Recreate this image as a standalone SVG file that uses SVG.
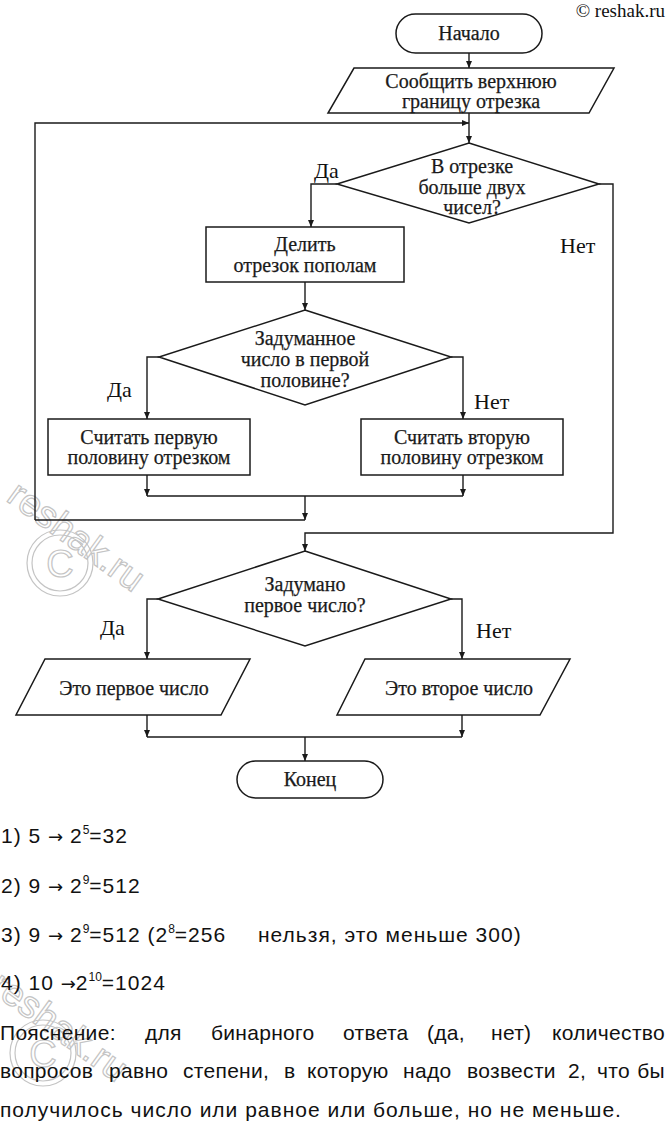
<svg xmlns="http://www.w3.org/2000/svg" width="669" height="1124" viewBox="0 0 669 1124">
<style>
.sh{fill:#fff;stroke:#1a1a1a;stroke-width:1.5}
.ln{fill:none;stroke:#1a1a1a;stroke-width:1.4}
.t{font-family:"Liberation Serif",serif;font-size:20px;fill:#1a1a1a;text-anchor:middle;stroke:#1a1a1a;stroke-width:0.25}
.lb{font-family:"Liberation Serif",serif;font-size:22px;fill:#111}
.b{font-family:"Liberation Sans","DejaVu Sans",sans-serif;font-size:21px;letter-spacing:1px;fill:#111}
.p{font-family:"Liberation Sans","DejaVu Sans",sans-serif;font-size:21px;letter-spacing:0.3px;fill:#111}
.sup{font-size:12px;letter-spacing:0}
.arw{font-family:"DejaVu Sans",sans-serif;font-size:18px;letter-spacing:0}
.wm{font-family:"Liberation Sans",sans-serif;font-size:38px;fill:#fff;stroke:#c4c4c4;stroke-width:1.2}
</style>
<defs>
<marker id="ar" markerUnits="userSpaceOnUse" markerWidth="8" markerHeight="8" refX="7" refY="3" orient="auto">
<path d="M0,0 L7,3 L0,6 Z" fill="#1a1a1a"/>
</marker>
<g id="wmark">
<text class="wm" x="5" y="500" transform="rotate(36 5 500)">reshak.ru</text>
<circle cx="60" cy="563" r="33" fill="none" stroke="#c4c4c4" stroke-width="1.2"/>
<circle cx="60" cy="563" r="28" fill="none" stroke="#c4c4c4" stroke-width="1.2"/>
<text class="wm" x="60" y="577" font-size="40" text-anchor="middle">C</text>
</g>
</defs>
<rect width="669" height="1124" fill="#fff"/>
<g id="watermarks">
<use href="#wmark"/>
<use href="#wmark" transform="translate(-17 490)"/>
</g>
<text x="665" y="17" font-family="Liberation Serif,serif" font-size="19" text-anchor="end" fill="#111">© reshak.ru</text>
<g id="connectors">
<path class="ln" d="M469,53 V68" marker-end="url(#ar)"/>
<path class="ln" d="M469,113 V143" marker-end="url(#ar)"/>
<path class="ln" d="M35,520 V123 H469" marker-end="url(#ar)"/>
<path class="ln" d="M337,184 H311 V227" marker-end="url(#ar)"/>
<path class="ln" d="M599,184 H613 V533 H305 V551" marker-end="url(#ar)"/>
<path class="ln" d="M305,282 V310" marker-end="url(#ar)"/>
<path class="ln" d="M159,357 H147 V419" marker-end="url(#ar)"/>
<path class="ln" d="M451,357 H463 V419" marker-end="url(#ar)"/>
<path class="ln" d="M147,475 V496" marker-end="url(#ar)"/>
<path class="ln" d="M463,475 V496" marker-end="url(#ar)"/>
<path class="ln" d="M147,496 H463"/>
<path class="ln" d="M305,496 V520" marker-end="url(#ar)"/>
<path class="ln" d="M305,520 H35"/>
<path class="ln" d="M158,599 H147 V659" marker-end="url(#ar)"/>
<path class="ln" d="M451,599 H462 V659" marker-end="url(#ar)"/>
<path class="ln" d="M147,715 V737" marker-end="url(#ar)"/>
<path class="ln" d="M462,715 V737" marker-end="url(#ar)"/>
<path class="ln" d="M147,737 H462"/>
<path class="ln" d="M305,737 V761" marker-end="url(#ar)"/>
<text class="lb" x="314" y="178">Да</text>
<text class="lb" x="560" y="253">Нет</text>
<text class="lb" x="107" y="397">Да</text>
<text class="lb" x="474" y="409">Нет</text>
<text class="lb" x="100" y="635">Да</text>
<text class="lb" x="476" y="638">Нет</text>
</g>
<g id="start">
<rect class="sh" x="396" y="14" width="146" height="39" rx="19.5"/>
<text class="t" x="469" y="40">Начало</text>
</g>
<g id="input">
<polygon class="sh" points="354,68 614,68 589,113 328,113"/>
<text class="t" x="471" y="88">Сообщить верхнюю</text>
<text class="t" x="471" y="108">границу отрезка</text>
</g>
<g id="dec1">
<polygon class="sh" points="469,143 599,184 469,223 337,184"/>
<text class="t" x="472" y="173">В отрезке</text>
<text class="t" x="472" y="194">больше двух</text>
<text class="t" x="472" y="214">чисел?</text>
</g>
<g id="split">
<rect class="sh" x="206" y="227" width="198" height="55"/>
<text class="t" x="305" y="251">Делить</text>
<text class="t" x="305" y="272">отрезок пополам</text>
</g>
<g id="dec2">
<polygon class="sh" points="305,310 451,357 305,405 159,357"/>
<text class="t" x="305" y="345">Задуманное</text>
<text class="t" x="305" y="366">число в первой</text>
<text class="t" x="305" y="387">половине?</text>
</g>
<g id="first">
<rect class="sh" x="48" y="419" width="202" height="56"/>
<text class="t" x="149" y="444">Считать первую</text>
<text class="t" x="149" y="464">половину отрезком</text>
</g>
<g id="second">
<rect class="sh" x="361" y="419" width="202" height="56"/>
<text class="t" x="462" y="444">Считать вторую</text>
<text class="t" x="462" y="464">половину отрезком</text>
</g>
<g id="dec3">
<polygon class="sh" points="305,551 451,599 305,646 158,599"/>
<text class="t" x="305" y="591">Задумано</text>
<text class="t" x="305" y="612">первое число?</text>
</g>
<g id="out1">
<polygon class="sh" points="45,659 250,659 221,715 16,715"/>
<text class="t" x="134" y="695">Это первое число</text>
</g>
<g id="out2">
<polygon class="sh" points="365,659 570,659 540,715 337,715"/>
<text class="t" x="459" y="695">Это второе число</text>
</g>
<g id="end">
<rect class="sh" x="237" y="761" width="146" height="37" rx="18.5"/>
<text class="t" x="310" y="786">Конец</text>
</g>
<g id="answers">
<text class="b" x="1" y="843">1) 5 <tspan class="arw">→</tspan> 2<tspan class="sup" dy="-9">5</tspan><tspan dy="9">=32</tspan></text>
<text class="b" x="1" y="893">2) 9 <tspan class="arw">→</tspan> 2<tspan class="sup" dy="-9">9</tspan><tspan dy="9">=512</tspan></text>
<text class="b" x="1" y="942">3) 9 <tspan class="arw">→</tspan> 2<tspan class="sup" dy="-9">9</tspan><tspan dy="9">=512 (2</tspan><tspan class="sup" dy="-9">8</tspan><tspan dy="9">=256</tspan><tspan x="258">нельзя, это меньше 300)</tspan></text>
<text class="b" x="1" y="990">4) 10 <tspan class="arw">→</tspan>2<tspan class="sup" dy="-9">10</tspan><tspan dy="9">=1024</tspan></text>
<text class="p" y="1040"><tspan x="0">Пояснение:</tspan><tspan x="145">для</tspan><tspan x="211">бинарного</tspan><tspan x="343">ответа</tspan><tspan x="427">(да,</tspan><tspan x="491">нет)</tspan></text>
<text class="p" x="665" y="1040" text-anchor="end">количество</text>
<text class="p" y="1078"><tspan x="0">вопросов</tspan><tspan x="109">равно</tspan><tspan x="183">степени,</tspan><tspan x="284">в</tspan><tspan x="307">которую</tspan><tspan x="403">надо</tspan><tspan x="467">возвести</tspan><tspan x="568">2,</tspan><tspan x="597">что</tspan></text>
<text class="p" x="665" y="1078" text-anchor="end">бы</text>
<text class="b" x="0" y="1117">получилось число или равное или больше, но не меньше.</text>
</g>
</svg>
